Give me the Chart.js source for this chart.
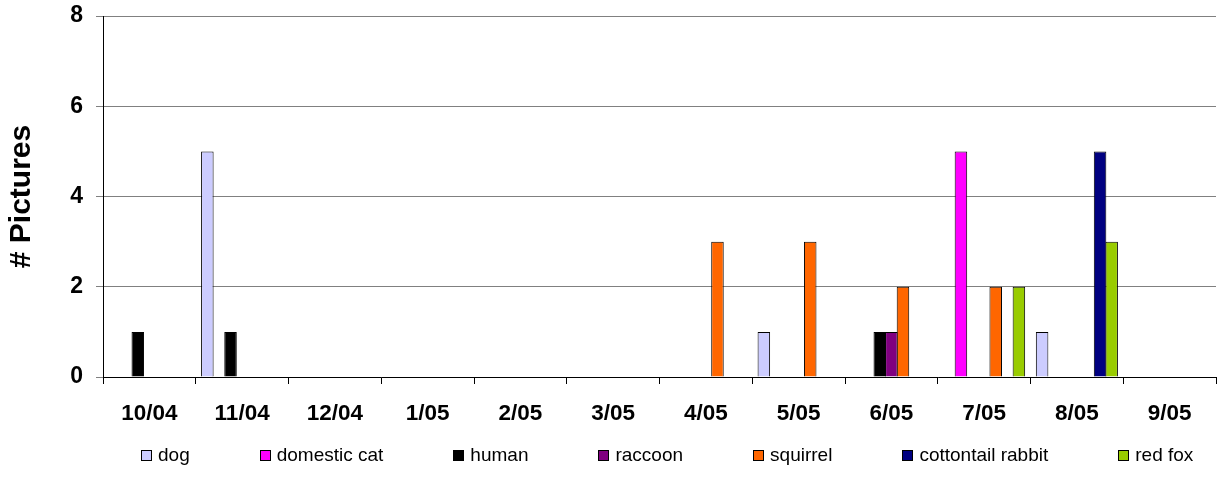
<!DOCTYPE html>
<html>
<head>
<meta charset="utf-8">
<script src="https://cdn.jsdelivr.net/npm/chart.js@4"></script>
<style>
  html, body { margin: 0; padding: 0; background: #fff; }
  #wrap { position: relative; width: 1225px; height: 495px; }
  #legend {
    position: absolute; left: 141px; top: 445px;
    display: flex; gap: 70px;
    font-family: 'Liberation Sans', Arial, sans-serif; font-size: 19px; line-height: 20px; color: #000;
  }
  #legend .item { display: flex; align-items: center; white-space: nowrap; }
  #legend .box { width: 11px; height: 11px; box-sizing: border-box; border: 1px solid #000; margin-right: 6px; }
</style>
</head>
<body>
<div id="wrap">
  <canvas id="chart" width="1225" height="495"></canvas>
  <div id="legend"></div>
</div>
<script>
// Months on the x axis
const months = ['10/04', '11/04', '12/04', '1/05', '2/05', '3/05', '4/05', '5/05', '6/05', '7/05', '8/05', '9/05'];

// Number of pictures per animal per month
const dog      = [0, 5, 0, 0, 0, 0, 0, 1, 0, 0, 1, 0];
const cat      = [0, 0, 0, 0, 0, 0, 0, 0, 0, 5, 0, 0];
const human    = [1, 1, 0, 0, 0, 0, 0, 0, 1, 0, 0, 0];
const raccoon  = [0, 0, 0, 0, 0, 0, 0, 0, 1, 0, 0, 0];
const squirrel = [0, 0, 0, 0, 0, 0, 3, 3, 2, 2, 0, 0];
const rabbit   = [0, 0, 0, 0, 0, 0, 0, 0, 0, 0, 5, 0];
const redFox   = [0, 0, 0, 0, 0, 0, 0, 0, 0, 2, 3, 0];

const yTicks = [0, 2, 4, 6, 8];

const FONT = "'Liberation Sans', Arial, sans-serif";

const makeSet = (label, data, color) => ({
  label: label,
  data: data,
  backgroundColor: color,
  borderColor: '#000',
  borderWidth: 1,
});

const ctx = document.getElementById('chart').getContext('2d');
const chart = new Chart(ctx, {
  type: 'bar',
  data: {
    labels: months,
    datasets: [
      makeSet('dog', dog, '#CCCCFF'),
      makeSet('domestic cat', cat, '#FF00FF'),
      makeSet('human', human, '#000000'),
      makeSet('raccoon', raccoon, '#800080'),
      makeSet('squirrel', squirrel, '#FF6600'),
      makeSet('cottontail rabbit', rabbit, '#000080'),
      makeSet('red fox', redFox, '#99CC00'),
    ],
  },
  options: {
    responsive: false,
    animation: false,
    categoryPercentage: 0.875,
    barPercentage: 1.08,
    layout: { padding: { top: 16, right: 9, bottom: 58, left: 0 } },
    plugins: {
      tooltip: { enabled: false },
      legend: { display: false },
    },
    scales: {
      x: {
        afterFit: (scale) => { scale.height = 60; },
        grid: {
          display: true,
          drawOnChartArea: false,
          drawTicks: true,
          tickLength: 7,
          color: '#000',
        },
        border: { color: '#000', width: 1 },
        ticks: {
          color: '#000',
          padding: 16,
          maxRotation: 0,
          autoSkip: false,
          font: { family: FONT, size: 22.5, weight: 'bold' },
        },
      },
      y: {
        min: 0,
        max: 8,
        afterFit: (scale) => { scale.width = 103; },
        afterBuildTicks: (scale) => { scale.ticks = yTicks.map(v => ({ value: v })); },
        grid: {
          color: '#808080',
          tickLength: 7,
        },
        border: { color: '#000', width: 1 },
        ticks: {
          color: '#000',
          padding: 13,
          // small lineHeight keeps the top "8" label from pushing the plot down
          font: { family: FONT, size: 23, weight: 'bold', lineHeight: 0.2 },
        },
        title: {
          display: true,
          text: '# Pictures',
          color: '#000',
          padding: { top: 4, bottom: 0 },
          font: { family: FONT, size: 30, weight: 'bold' },
        },
      },
    },
  },
});

// HTML legend built from the datasets
const legendEl = document.getElementById('legend');
chart.data.datasets.forEach((ds) => {
  const item = document.createElement('div');
  item.className = 'item';
  const box = document.createElement('span');
  box.className = 'box';
  box.style.background = ds.backgroundColor;
  item.appendChild(box);
  item.appendChild(document.createTextNode(ds.label));
  legendEl.appendChild(item);
});
</script>
</body>
</html>
